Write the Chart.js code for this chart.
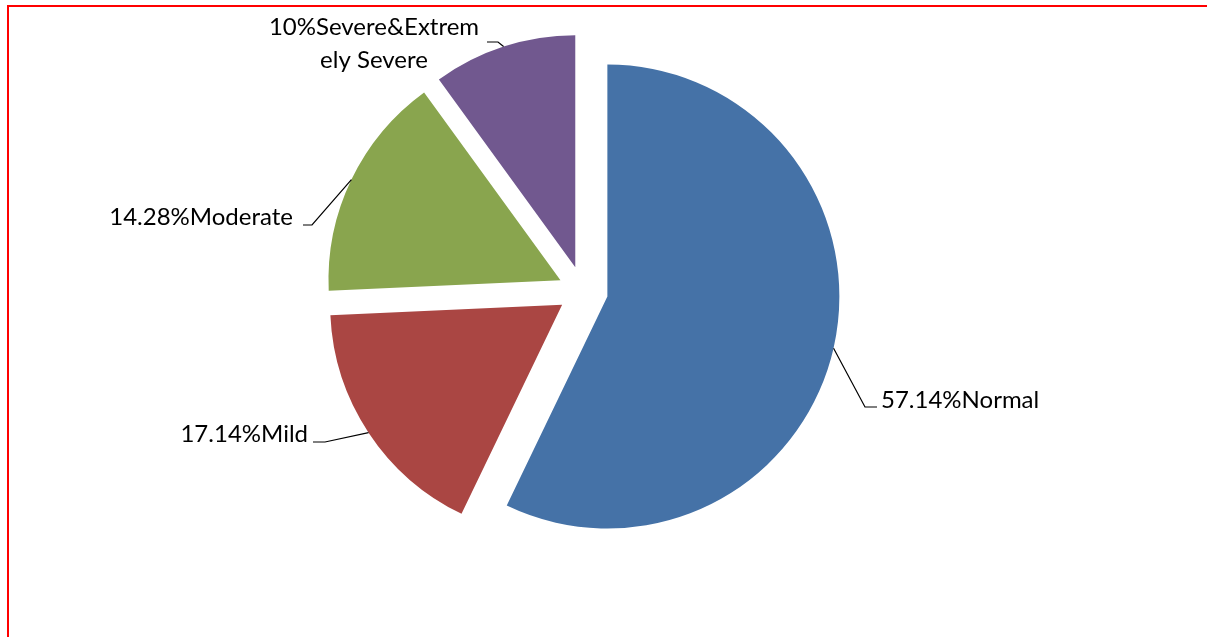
<!DOCTYPE html>
<html>
<head>
<meta charset="utf-8">
<script src="https://cdn.jsdelivr.net/npm/chart.js@4.4.0/dist/chart.umd.min.js"></script>
<style>
    html, body { margin: 0; padding: 0; background: #fff; overflow: hidden; }
    #frame { position: absolute; left: 7px; top: 5px; width: 1300px; height: 700px; border: 2px solid #ff0000; }
    #wrap { position: absolute; left: 0; top: 0; width: 1207px; height: 637px; }
</style>
</head>
<body>
<div id="frame"></div>
<div id="wrap"><canvas id="chart" width="1207" height="637"></canvas></div>
<script>
// Дані діаграми
const categories = ['Normal', 'Mild', 'Moderate', 'Severe&Extremely Severe'];
const shares = [57.14, 17.14, 15.72, 10];
const labelLines = [
    ['57.14%Normal'],
    ['17.14%Mild'],
    ['14.28%Moderate'],
    ['10%Severe&Extrem', 'ely Severe']
];
const sliceColors = ['#4572A7', '#AA4643', '#89A54E', '#71588F'];

const RADIUS = 232;
const EXPLODE = 100; // Chart.js ділить offset на 4 -> 25px

// Chart.js збільшує радіус і звужує сектор разом з offset — компенсуємо
const pieFix = {
    id: 'pieFix',
    afterDatasetsUpdate(chart) {
        const meta = chart.getDatasetMeta(0);
        meta.data.forEach(arc => {
            const off = (arc.options.offset || 0) / 4;
            const fix = 1 - Math.sin(Math.min(Math.PI, arc.circumference));
            const ro = off * fix;
            arc.outerRadius = RADIUS - ro;
            const pad = ro / (2 * Math.PI * RADIUS);
            arc.startAngle -= pad;
            arc.endAngle += pad;
        });
    }
};

// Підписи з лініями-виносками
const leaderLabels = {
    id: 'leaderLabels',
    afterDraw(chart, args, opts) {
        const ctx = chart.ctx;
        const meta = chart.getDatasetMeta(0);
        ctx.save();
        ctx.font = opts.font;
        ctx.fillStyle = '#000';
        ctx.strokeStyle = '#000';
        ctx.lineWidth = 1.2;
        meta.data.forEach((arc, i) => {
            const mid = (arc.startAngle + arc.endAngle) / 2;
            const off = (arc.options.offset || 0) / 4;
            const ax = arc.x + Math.cos(mid) * (off + RADIUS);
            const ay = arc.y + Math.sin(mid) * (off + RADIUS);
            const L = opts.layout[i];
            ctx.beginPath();
            ctx.moveTo(ax, ay);
            ctx.lineTo(L.elbow[0], L.elbow[1]);
            ctx.lineTo(L.end[0], L.end[1]);
            ctx.stroke();
            ctx.textAlign = L.align;
            ctx.textBaseline = 'alphabetic';
            labelLines[i].forEach((t, k) => ctx.fillText(t, L.x, L.y + k * L.lh));
        });
        ctx.restore();
    }
};

document.addEventListener('DOMContentLoaded', () => {
    const ctx = document.getElementById('chart').getContext('2d');
    new Chart(ctx, {
        type: 'pie',
        data: {
            labels: categories,
            datasets: [{
                data: shares,
                backgroundColor: sliceColors,
                borderWidth: 0,
                offset: EXPLODE
            }]
        },
        options: {
            responsive: false,
            animation: false,
            devicePixelRatio: 1,
            radius: RADIUS,
            layout: { padding: { left: 0, right: 41, top: 0, bottom: 55 } },
            plugins: {
                legend: { display: false },
                tooltip: { enabled: false },
                leaderLabels: {
                    font: '24px Lato',
                    layout: [
                        { elbow: [865, 407], end: [877, 407], x: 881, y: 408, align: 'left', lh: 0 },
                        { elbow: [325, 442], end: [313, 442], x: 308, y: 442, align: 'right', lh: 0 },
                        { elbow: [312, 225], end: [303, 225], x: 293, y: 225, align: 'right', lh: 0 },
                        { elbow: [498, 42], end: [487, 42], x: 374, y: 35, align: 'center', lh: 33 }
                    ]
                }
            }
        },
        plugins: [pieFix, leaderLabels]
    });
});
</script>
</body>
</html>
